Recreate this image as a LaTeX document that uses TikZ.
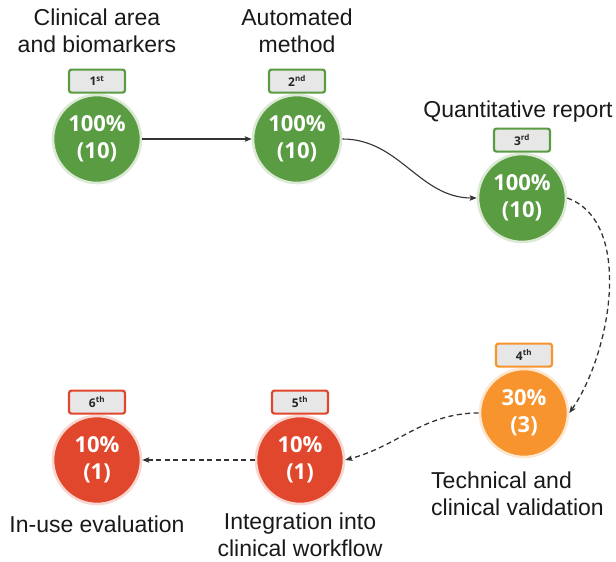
\documentclass[tikz,border=0pt]{standalone}
\usepackage{fontspec}
\setmainfont{Liberation Sans}
\newfontfamily\numfont{Open Sans}
\usetikzlibrary{arrows.meta}

\definecolor{stepgreen}{RGB}{90,156,66}
\definecolor{steporange}{RGB}{247,148,45}
\definecolor{stepred}{RGB}{225,71,44}
\definecolor{badgegray}{RGB}{231,231,231}
\definecolor{linegray}{RGB}{51,51,51}

\begin{document}
\begin{tikzpicture}[x = 1pt, y = 1pt,
    disc/.style = {circle, fill = #1, draw = #1!22, line width = 2.6pt,
                   minimum size = 88pt, inner sep = 0pt, text = white, align = center,
                   font = \numfont\bfseries\fontsize{22}{27}\selectfont},
    badge/.style = {draw = #1, fill = badgegray, line width = 2.2pt, rounded corners = 2.5pt,
                    minimum width = 56pt, minimum height = 23pt, inner sep = 0pt,
                    font = \numfont\bfseries\fontsize{12}{13}\selectfont, text = black!85},
    steplabel/.style = {font = \fontsize{23}{27}\selectfont, align = center, text = black!90,
                        inner sep = 1pt},
    link/.style = {draw = linegray, line width = 1.1pt,
                   -{Stealth[length = 7pt, width = 5.5pt, inset = 1.5pt]}},
    gap/.style = {link, line width = 1.3pt, dash pattern = on 5pt off 3.5pt}]
        \useasboundingbox (0,0) rectangle (616,-562);

        % steps
        \node[disc = stepgreen] (c1) at (97,-139) {100\%\\(10)};
        \node[disc = stepgreen] (c2) at (297,-139) {100\%\\(10)};
        \node[disc = stepgreen] (c3) at (522,-198) {100\%\\(10)};
        \node[disc = steporange] (c4) at (524,-413) {30\%\\(3)};
        \node[disc = stepred] (c5) at (300,-460) {10\%\\(1)};
        \node[disc = stepred] (c6) at (97,-460) {10\%\\(1)};

        \node[badge = stepgreen, anchor = south] (b1) at (c1.north) {1\textsuperscript{st}};
        \node[badge = stepgreen, anchor = south] (b2) at (c2.north) {2\textsuperscript{nd}};
        \node[badge = stepgreen, anchor = south] (b3) at (c3.north) {3\textsuperscript{rd}};
        \node[badge = steporange, anchor = south] (b4) at (c4.north) {4\textsuperscript{th}};
        \node[badge = stepred, anchor = south] (b5) at (c5.north) {5\textsuperscript{th}};
        \node[badge = stepred, anchor = south] (b6) at (c6.north) {6\textsuperscript{th}};

        \node[steplabel] (t1) at (97,-31) {Clinical area\\and biomarkers};
        \node[steplabel] (t2) at (297,-31) {Automated\\method};
        \node[steplabel] (t3) at (518,-112) {Quantitative report};
        \node[steplabel, align = left, anchor = west] (t4) at (430,-494) {Technical and\\clinical validation};
        \node[steplabel] (t5) at (300,-535) {Integration into\\clinical workflow};
        \node[steplabel] (t6) at (97,-524) {In-use evaluation};

        % arrows
        \draw[link] (c1) -- (c2);
        \draw[link] (c2.east) to[out = 0, in = 180] (c3.west);
        \draw[gap] (c3.east) to[out = -20, in = 55, looseness = .85] (c4.east);
        \draw[gap] (c4.west) to[out = 180, in = 15] (c5.east);
        \draw[gap] (c5) -- (c6);
      \end{tikzpicture}
\end{document}
